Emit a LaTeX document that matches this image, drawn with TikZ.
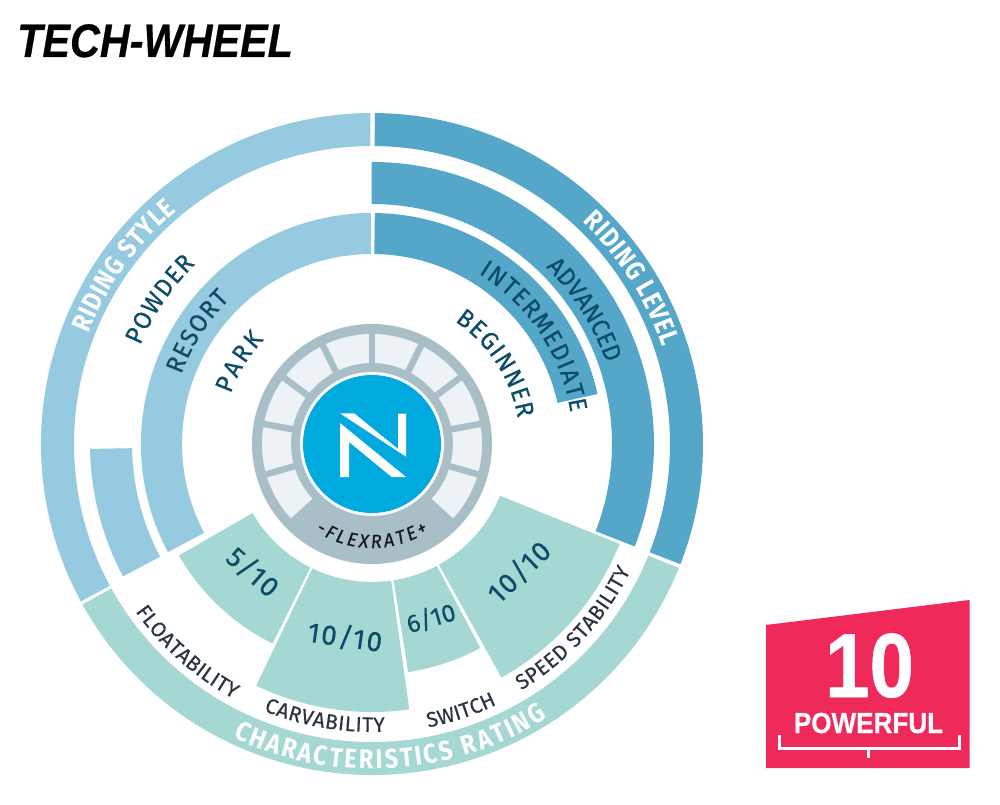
\documentclass[tikz,border=0pt]{standalone}
\usepackage{fontspec}
\usetikzlibrary{decorations.text}
\setmainfont{Fira Sans}
\newfontfamily\libsans{Liberation Sans}
\newfontfamily\libheavy[FakeBold=0.6]{Liberation Sans}
\newfontfamily\dinm[FakeBold=0.5,FakeStretch=0.96]{Fira Sans}
\newfontfamily\dinb[FakeStretch=0.87]{Fira Sans}
\newfontfamily\dinr[FakeBold=0.2]{Fira Sans}
\newfontfamily\spaced[LetterSpace=6,FakeBold=0.3]{Fira Sans}
\newfontfamily\spacedn[LetterSpace=1,FakeBold=0.3]{Fira Sans}
\definecolor{lightb}{HTML}{95CAE0}
\definecolor{darkb}{HTML}{55A7C9}
\definecolor{tealc}{HTML}{A5D8D3}
\definecolor{inkb}{HTML}{0C4C68}
\definecolor{inkk}{HTML}{2B3242}
\definecolor{hubb}{HTML}{00A9DE}
\definecolor{hubg}{HTML}{A9BFC8}
\definecolor{cellc}{HTML}{EDF2F6}
\definecolor{panelr}{HTML}{EF2A5B}
\newcommand{\sect}[5]{\fill[#1] (#2:#4) arc[start angle=#2,end angle=#3,radius=#4] -- (#3:#5) arc[start angle=#3,end angle=#2,radius=#5] -- cycle;}
\newcommand{\arctxt}[5]{\path[decorate,decoration={text along path,text={|#1|#5},text align=fit to path}] (#3:#2) arc[start angle=#3,end angle=#4,radius=#2];}
\newcommand{\fWhite}{\dinb\bfseries\fontsize{27}{30}\selectfont\color{white}}
\newcommand{\fBlue}{\dinm\fontsize{25}{26}\selectfont\color{inkb}}
\newcommand{\fBlk}{\dinr\fontsize{21}{24}\selectfont\color{inkk}}
\newcommand{\fFlex}{\dinm\itshape\fontsize{19}{20}\selectfont\color{black!90}}
\begin{document}
\begin{tikzpicture}[x=1pt,y=1pt,
  frac/.style={font=\spaced\fontsize{28}{30}\selectfont,text=inkb,inner sep=0pt}]
\useasboundingbox (0,0) rectangle (1000,804);
\fill[white] (0,0) rectangle (1000,804);
\node[anchor=base west,inner sep=0pt,xscale=.88,font=\libheavy\bfseries\itshape\fontsize{47}{50}\selectfont] (title) at (17,747) {TECH-WHEEL};
\begin{scope}[shift={(372,360)}]
% outer rings
\sect{lightb}{208.4}{90.3}{331}{298}
\sect{darkb}{89.5}{-21.3}{331}{298}
\sect{tealc}{209}{338}{331}{298}
% middle ring
\sect{darkb}{90.1}{-21.3}{282}{240}
\sect{lightb}{181}{208}{282}{240}
% inner ring
\sect{lightb}{207.9}{90.3}{231}{190}
\sect{darkb}{89.3}{12.5}{231}{190}
% characteristics
\sect{tealc}{-22}{-61}{267}{138}
\sect{tealc}{-62}{-81}{231}{138}
\sect{tealc}{-82}{-115.6}{268}{138}
\sect{tealc}{243.5}{210}{223}{138}
% hub
\fill[hubg] (0,0) circle[radius=120];
\foreach \a in {90,63.5,37,10.5,-16}{\sect{cellc}{\a}{\a-26.5}{110}{81}}
\foreach \a in {90,116.5,143,169.5,196}{\sect{cellc}{\a}{\a+26.5}{110}{81}}
\foreach \a in {90,63.5,37,10.5,-16,116.5,143,169.5,196}{\draw[hubg,line width=6.5pt] (\a:79) -- (\a:112);}
\fill[white] (0,0) circle[radius=72];
\fill[hubb] (0,0) circle[radius=69];
% logo
\fill[white] (-32,30.7) -- (-17.7,30.6) -- (26,-5) -- (26,30.3) -- (34,30.3) -- (34,-12.7) -- cycle;
\fill[white] (-32,21) -- (34,-33) -- (19.7,-33) -- (-23,2) -- (-23,-33) -- (-32,-33) -- cycle;
% curved labels
\arctxt{\fWhite}{304}{158.6}{130}{RIDING STYLE}
\arctxt{\fWhite}{306}{46.5}{18.5}{RIDING LEVEL}
\arctxt{\fBlue}{252}{157}{134.5}{POWDER}
\arctxt{\fBlue}{203}{160}{134.5}{RESORT}
\arctxt{\fBlue}{150}{160.5}{136}{PARK}
\arctxt{\fBlue}{148}{56}{10}{BEGINNER}
\arctxt{\fBlue}{201}{58}{9}{INTERMEDIATE}
\arctxt{\fBlue}{248}{45.5}{19.5}{ADVANCED}
\arctxt{\fFlex}{104}{237}{303}{-FLEXRATE+}
\arctxt{\fBlk}{290}{215.3}{241.5}{FLOATABILITY}
\arctxt{\fBlk}{288}{247.9}{272.6}{CARVABILITY}
\arctxt{\fBlk}{289}{-78.8}{-64.4}{SWITCH}
\arctxt{\fBlk}{288}{-58.8}{-26.1}{SPEED STABILITY}
\arctxt{\fWhite}{325}{244.7}{302.7}{CHARACTERISTICS RATING}
\end{scope}
% fractions
\node[frac,rotate=-41] (f1) at (253,232) {5/10};
\node[frac,rotate=-8] (f2) at (345,167) {10/10};
\node[frac,rotate=16,font=\spacedn\fontsize{25}{28}\selectfont] (f3) at (431,186) {6/10};
\node[frac,rotate=44] (f4) at (519,232) {10/10};
% panel
\fill[panelr] (766,179) -- (969.5,204) -- (969.5,36) -- (766,36) -- cycle;
\node[inner sep=0pt,anchor=base,text=white,xscale=.88,font=\libheavy\bfseries\fontsize{91}{95}\selectfont] (ten) at (869.5,107) {10};
\node[inner sep=0pt,anchor=base,text=white,xscale=.9,font=\libheavy\bfseries\fontsize{29}{32}\selectfont] (pow) at (868.5,71) {POWERFUL};
\draw[white,line width=3pt] (779,69) -- (779,56) -- (959,56) -- (959,69);
\draw[white,line width=3pt] (868,56) -- (868,46);
\end{tikzpicture}
\end{document}
